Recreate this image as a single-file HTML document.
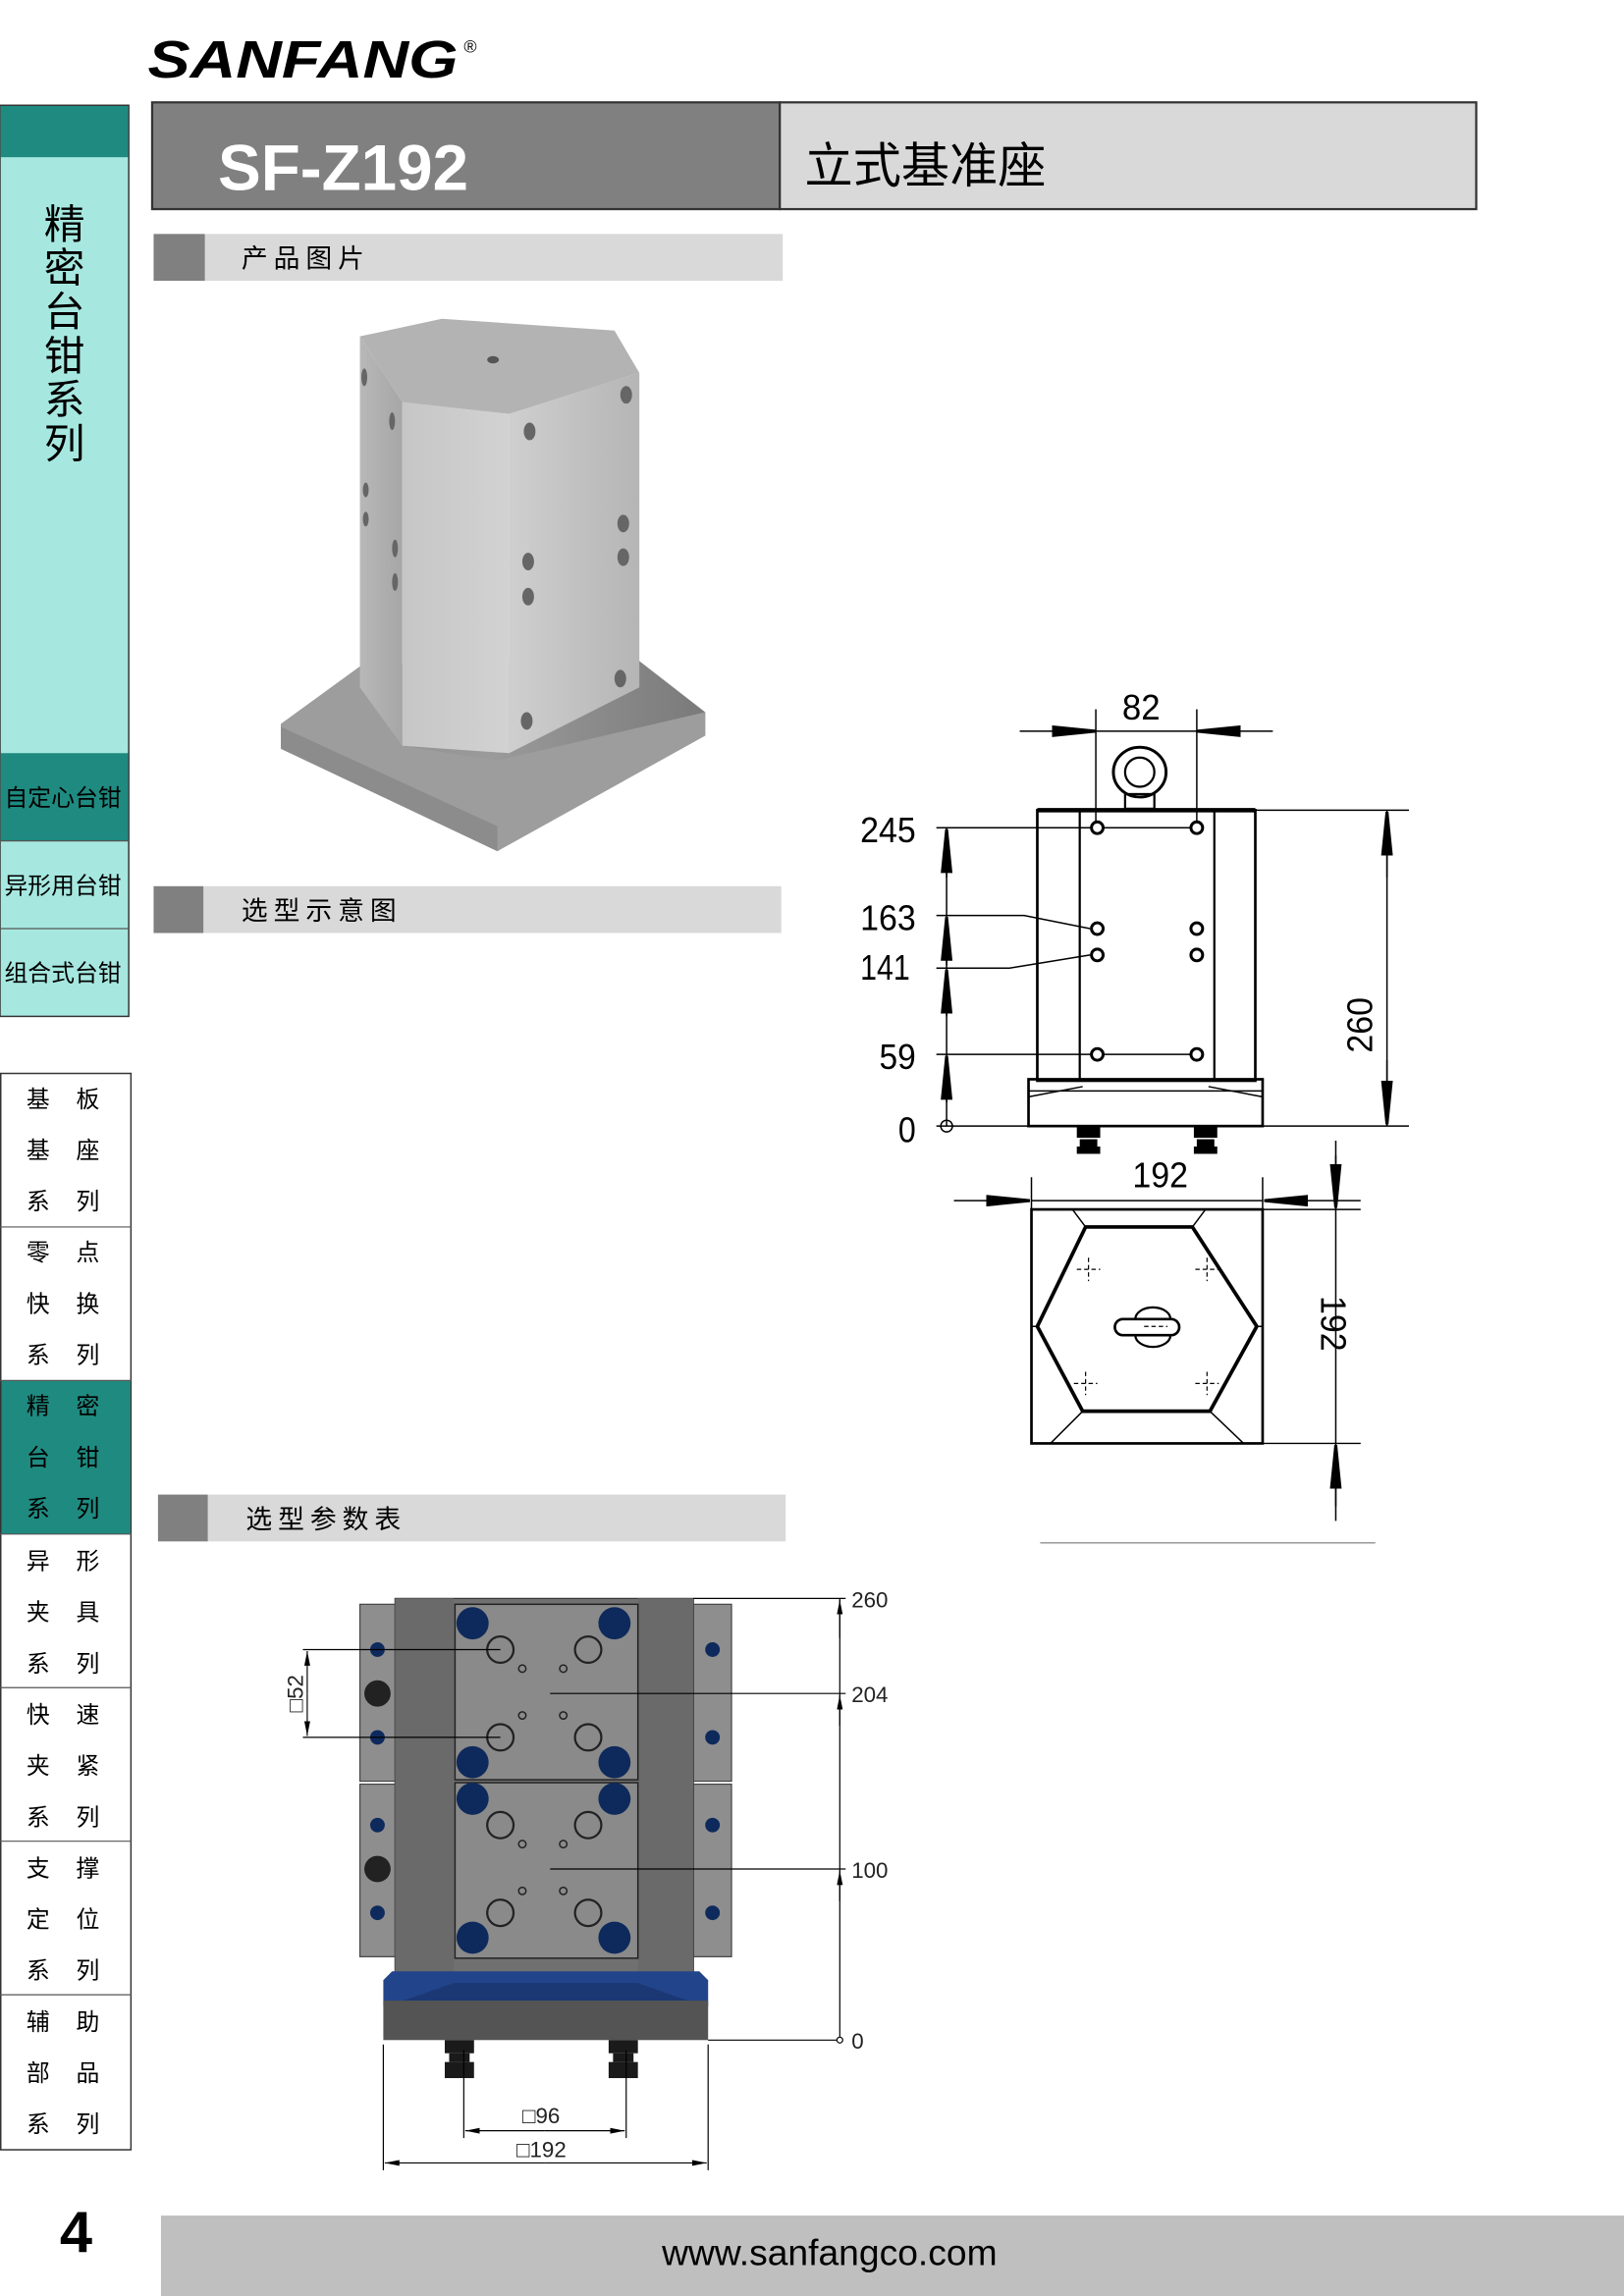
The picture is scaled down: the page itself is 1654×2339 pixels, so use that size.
<!DOCTYPE html>
<html><head><meta charset="utf-8"><style>
html,body{margin:0;padding:0;background:#fff;}
svg{display:block;}
text{font-family:"Liberation Sans","Noto Sans CJK SC",sans-serif;}
</style></head><body>
<svg width="1654" height="2339" viewBox="0 0 1110 1570" preserveAspectRatio="none" xmlns="http://www.w3.org/2000/svg">
<defs>
<linearGradient id="gA" x1="0" x2="1"><stop offset="0" stop-color="#b8b8b8"/><stop offset="1" stop-color="#a6a6a6"/></linearGradient>
<linearGradient id="gB" x1="0" x2="1"><stop offset="0" stop-color="#cfcfcf"/><stop offset="1" stop-color="#b5b5b5"/></linearGradient>
<linearGradient id="gC" x1="0" x2="1"><stop offset="0" stop-color="#c6c6c6"/><stop offset="1" stop-color="#d2d2d2"/></linearGradient>
<linearGradient id="gD" x1="0" x2="1"><stop offset="0" stop-color="#8a8a8a"/><stop offset="0.5" stop-color="#9a9a9a"/><stop offset="1" stop-color="#7a7a7a"/></linearGradient>
<marker id="ar" viewBox="0 0 10 4" refX="10" refY="2" markerWidth="10" markerHeight="4" orient="auto" markerUnits="userSpaceOnUse"><path d="M0,0 L10,2 L0,4z" fill="#000"/></marker>
<marker id="ab" viewBox="0 0 30 8" refX="30" refY="4" markerWidth="30" markerHeight="8" orient="auto" markerUnits="userSpaceOnUse"><path d="M0,0 L30,3 L30,5 L0,8z" fill="#000"/></marker>
</defs>

<!-- logo -->
<text x="101" y="53" font-size="36" font-weight="bold" font-style="italic" fill="#000" textLength="212" lengthAdjust="spacingAndGlyphs">SANFANG</text>
<text x="317" y="36" font-size="12" fill="#000">®</text>

<!-- header -->
<rect x="104" y="70" width="429" height="73" fill="#808080" stroke="#333" stroke-width="1.5"/>
<rect x="533" y="70" width="476" height="73" fill="#d9d9d9" stroke="#333" stroke-width="1.5"/>
<text x="149" y="130" font-size="44" font-weight="bold" fill="#fff">SF-Z192</text>
<text x="550" y="125" font-size="33" fill="#000">立式基准座</text>

<!-- sidebar -->
<rect x="0" y="72" width="88" height="623" fill="#a6e8e0" stroke="#333" stroke-width="1"/>
<rect x="0.5" y="72.5" width="87" height="35" fill="#1f8a80"/>
<g font-size="28" fill="#000" text-anchor="middle">
<text x="44" y="163">精</text><text x="44" y="193">密</text><text x="44" y="223">台</text><text x="44" y="253">钳</text><text x="44" y="283">系</text><text x="44" y="313">列</text>
</g>
<rect x="0.5" y="515" width="87" height="60" fill="#1f8a80"/>
<line x1="0" y1="575" x2="88" y2="575" stroke="#555" stroke-width="0.8"/>
<line x1="0" y1="635" x2="88" y2="635" stroke="#555" stroke-width="0.8"/>
<g font-size="16" fill="#000">
<text x="3" y="551">自定心台钳</text><text x="3" y="611">异形用台钳</text><text x="3" y="671">组合式台钳</text>
</g>

<!-- lower list -->
<rect x="0.5" y="734" width="89" height="736" fill="#fff" stroke="#333" stroke-width="1"/>
<rect x="1" y="944" width="88" height="105" fill="#1f8a80"/>
<g stroke="#555" stroke-width="0.8">
<line x1="0" y1="839" x2="90" y2="839"/><line x1="0" y1="944" x2="90" y2="944"/><line x1="0" y1="1049" x2="90" y2="1049"/><line x1="0" y1="1154" x2="90" y2="1154"/><line x1="0" y1="1259" x2="90" y2="1259"/><line x1="0" y1="1364" x2="90" y2="1364"/>
</g>
<g font-size="16" fill="#000">
<text x="18" y="757">基</text><text x="52" y="757">板</text>
<text x="18" y="792">基</text><text x="52" y="792">座</text>
<text x="18" y="827">系</text><text x="52" y="827">列</text>
<text x="18" y="862">零</text><text x="52" y="862">点</text>
<text x="18" y="897">快</text><text x="52" y="897">换</text>
<text x="18" y="932">系</text><text x="52" y="932">列</text>
<text x="18" y="967">精</text><text x="52" y="967">密</text>
<text x="18" y="1002">台</text><text x="52" y="1002">钳</text>
<text x="18" y="1037">系</text><text x="52" y="1037">列</text>
<text x="18" y="1073">异</text><text x="52" y="1073">形</text>
<text x="18" y="1108">夹</text><text x="52" y="1108">具</text>
<text x="18" y="1143">系</text><text x="52" y="1143">列</text>
<text x="18" y="1178">快</text><text x="52" y="1178">速</text>
<text x="18" y="1213">夹</text><text x="52" y="1213">紧</text>
<text x="18" y="1248">系</text><text x="52" y="1248">列</text>
<text x="18" y="1283">支</text><text x="52" y="1283">撑</text>
<text x="18" y="1318">定</text><text x="52" y="1318">位</text>
<text x="18" y="1353">系</text><text x="52" y="1353">列</text>
<text x="18" y="1388">辅</text><text x="52" y="1388">助</text>
<text x="18" y="1423">部</text><text x="52" y="1423">品</text>
<text x="18" y="1458">系</text><text x="52" y="1458">列</text>
</g>

<!-- section headers -->
<rect x="105" y="160" width="430" height="32" fill="#d9d9d9"/><rect x="105" y="160" width="35" height="32" fill="#808080"/>
<text x="165" y="183" font-size="18" letter-spacing="4">产品图片</text>
<rect x="105" y="606" width="429" height="32" fill="#d9d9d9"/><rect x="105" y="606" width="34" height="32" fill="#808080"/>
<text x="165" y="629" font-size="18" letter-spacing="4">选型示意图</text>
<rect x="108" y="1022" width="429" height="32" fill="#d9d9d9"/><rect x="108" y="1022" width="34" height="32" fill="#808080"/>
<text x="168" y="1045" font-size="18" letter-spacing="4">选型参数表</text>

<!-- product image -->
<polygon points="192,495 247,455 437,452 482,487 482,503 340,582 192,512" fill="url(#gD)"/>
<polygon points="192,495 247,455 275,460 275,510 340,520 482,487 482,503 340,582 192,512" fill="#9d9d9d"/>
<polygon points="192,512 340,582 340,565 192,497" fill="#8c8c8c"/>
<polygon points="246,230 275,275 275,510 246,470" fill="url(#gA)"/>
<polygon points="275,275 348,283 348,515 275,510" fill="url(#gC)"/>
<polygon points="348,283 437,255 437,470 348,515" fill="url(#gB)"/>
<polygon points="246,230 302,218 420,226 437,255 348,283 275,275" fill="#b3b3b3"/>
<ellipse cx="337" cy="246" rx="4" ry="2.5" fill="#555"/>
<g fill="#666">
<ellipse cx="362" cy="295" rx="4" ry="6"/><ellipse cx="428" cy="270" rx="4" ry="6"/>
<ellipse cx="426" cy="358" rx="4" ry="6"/><ellipse cx="426" cy="381" rx="4" ry="6"/>
<ellipse cx="361" cy="384" rx="4" ry="6"/><ellipse cx="361" cy="408" rx="4" ry="6"/>
<ellipse cx="424" cy="464" rx="4" ry="6"/><ellipse cx="360" cy="493" rx="4" ry="6"/>
<ellipse cx="249" cy="258" rx="2" ry="6"/><ellipse cx="268" cy="288" rx="2" ry="6"/>
<ellipse cx="250" cy="335" rx="2" ry="5"/><ellipse cx="250" cy="355" rx="2" ry="5"/>
<ellipse cx="270" cy="375" rx="2" ry="6"/><ellipse cx="270" cy="398" rx="2" ry="6"/>
</g>

<!-- front elevation drawing -->
<g stroke="#000" fill="none" stroke-width="1">
<line x1="749" y1="485" x2="749" y2="568"/><line x1="818" y1="485" x2="818" y2="568"/>
<line x1="697" y1="500" x2="749" y2="500" marker-end="url(#ab)"/><line x1="870" y1="500" x2="818" y2="500" marker-end="url(#ab)"/>
<line x1="749" y1="500" x2="818" y2="500"/>
<ellipse cx="779" cy="528" rx="18" ry="17" stroke-width="2"/><ellipse cx="779" cy="528" rx="10" ry="10" stroke-width="1.5"/>
<rect x="769" y="543" width="20" height="10" stroke-width="1.5"/>
<line x1="709" y1="554" x2="858" y2="554" stroke-width="3"/>
<rect x="709" y="554" width="149" height="185" stroke-width="1.8"/>
<line x1="738" y1="554" x2="738" y2="738" stroke-width="1.5"/><line x1="830" y1="554" x2="830" y2="738" stroke-width="1.5"/>
<rect x="703" y="738" width="160" height="32" stroke-width="1.8"/>
<line x1="703" y1="746" x2="863" y2="746"/>
<path d="M703,750 L740,743 M863,750 L826,743"/>
<line x1="703" y1="770" x2="963" y2="770"/>
<line x1="858" y1="554" x2="963" y2="554"/>
<line x1="948" y1="554" x2="948" y2="770"/>
<line x1="948" y1="600" x2="948" y2="555" marker-end="url(#ab)"/><line x1="948" y1="725" x2="948" y2="769" marker-end="url(#ab)"/>
<line x1="640" y1="566" x2="818" y2="566"/>
<path d="M640,626 L700,626 L745,635"/><path d="M640,662 L690,662 L745,653"/>
<line x1="640" y1="721" x2="818" y2="721"/>
<line x1="640" y1="770" x2="703" y2="770"/>
<line x1="647" y1="566" x2="647" y2="770"/>
<line x1="647" y1="600" x2="647" y2="567" marker-end="url(#ab)"/>
<line x1="647" y1="660" x2="647" y2="627" marker-end="url(#ab)"/>
<line x1="647" y1="695" x2="647" y2="663" marker-end="url(#ab)"/>
<line x1="647" y1="754" x2="647" y2="722" marker-end="url(#ab)"/>
<circle cx="647" cy="770" r="4"/>
</g>
<g fill="#000">
<rect x="736" y="770" width="16" height="8"/><rect x="738" y="779" width="12" height="5"/><rect x="736" y="784" width="16" height="5"/>
<rect x="816" y="770" width="16" height="8"/><rect x="818" y="779" width="12" height="5"/><rect x="816" y="784" width="16" height="5"/>
</g>
<g fill="#fff" stroke="#000" stroke-width="2">
<circle cx="750" cy="566" r="4"/><circle cx="818" cy="566" r="4"/><circle cx="750" cy="635" r="4"/><circle cx="818" cy="635" r="4"/>
<circle cx="750" cy="653" r="4"/><circle cx="818" cy="653" r="4"/><circle cx="750" cy="721" r="4"/><circle cx="818" cy="721" r="4"/>
</g>
<g font-size="24" fill="#000" font-family="Liberation Sans Narrow, Liberation Sans, sans-serif">
<text x="780" y="492" text-anchor="middle" textLength="26" lengthAdjust="spacingAndGlyphs">82</text>
<text x="588" y="576" textLength="38" lengthAdjust="spacingAndGlyphs">245</text>
<text x="588" y="636" textLength="38" lengthAdjust="spacingAndGlyphs">163</text>
<text x="588" y="670" textLength="34" lengthAdjust="spacingAndGlyphs">141</text>
<text x="601" y="731" textLength="25" lengthAdjust="spacingAndGlyphs">59</text>
<text x="614" y="781" textLength="12" lengthAdjust="spacingAndGlyphs">0</text>
<text transform="translate(938,701) rotate(-90)" text-anchor="middle" textLength="38" lengthAdjust="spacingAndGlyphs">260</text>
<text x="793" y="812" text-anchor="middle" textLength="38" lengthAdjust="spacingAndGlyphs">192</text>
<text transform="translate(903,905) rotate(90)" text-anchor="middle" textLength="38" lengthAdjust="spacingAndGlyphs">192</text>
</g>

<!-- plan view -->
<g stroke="#000" fill="none" stroke-width="1">
<rect x="705" y="827" width="158" height="160" stroke-width="1.8"/>
<polygon points="742,839 815,839 859,907 827,965 740,965 709,907" stroke-width="2.5"/>
<path d="M733,827 L742,839 M824,827 L815,839 M705,907 L709,907 M863,907 L859,907 M718,987 L740,965 M850,987 L827,965"/>
<line x1="705" y1="805" x2="705" y2="827"/><line x1="863" y1="805" x2="863" y2="827"/>
<line x1="652" y1="821" x2="704" y2="821" marker-end="url(#ab)"/><line x1="930" y1="821" x2="864" y2="821" marker-end="url(#ab)"/>
<line x1="705" y1="821" x2="863" y2="821"/>
<line x1="863" y1="827" x2="930" y2="827"/><line x1="863" y1="987" x2="930" y2="987"/>
<line x1="913" y1="780" x2="913" y2="1040"/>
<line x1="913" y1="790" x2="913" y2="826" marker-end="url(#ab)"/><line x1="913" y1="1030" x2="913" y2="988" marker-end="url(#ab)"/>
<rect x="762" y="902" width="44" height="11" rx="5.5" stroke-width="1.8"/>
<path d="M776,902 A12,8 0 0 1 800,902 M776,913 A12,8 0 0 0 800,913" stroke-width="1.5"/>
<g stroke-dasharray="3,2" stroke-width="0.8">
<path d="M736,868 H752 M744,860 V876 M817,868 H833 M825,860 V876 M734,946 H750 M742,938 V954 M817,946 H833 M825,938 V954 M782,907 H798"/>
</g>
<line x1="711" y1="1055" x2="940" y2="1055" stroke="#999"/>
</g>

<!-- 3D-ish front view (bottom) -->
<g>
<rect x="246" y="1097" width="26" height="121" fill="#8e8e8e" stroke="#444" stroke-width="0.8"/>
<rect x="246" y="1220" width="26" height="118" fill="#8e8e8e" stroke="#444" stroke-width="0.8"/>
<rect x="474" y="1097" width="26" height="121" fill="#8e8e8e" stroke="#444" stroke-width="0.8"/>
<rect x="474" y="1220" width="26" height="118" fill="#8e8e8e" stroke="#444" stroke-width="0.8"/>
<rect x="270" y="1093" width="204" height="256" fill="#707070" stroke="#333" stroke-width="0.8"/>
<rect x="270" y="1093" width="40" height="256" fill="#6a6a6a"/>
<rect x="436" y="1093" width="38" height="256" fill="#6a6a6a"/>
<rect x="311" y="1097" width="125" height="120" fill="#8a8a8a" stroke="#222" stroke-width="1"/>
<rect x="311" y="1219" width="125" height="120" fill="#8a8a8a" stroke="#222" stroke-width="1"/>
<polygon points="262,1354 268,1348 478,1348 484,1354 484,1372 262,1372" fill="#22448a"/>
<polygon points="310,1356 436,1356 470,1368 276,1368" fill="#1b3875"/>
<rect x="262" y="1368" width="222" height="27" fill="#545454"/>
<g fill="#1a1a1a">
<rect x="304" y="1395" width="20" height="9"/><rect x="307" y="1404" width="14" height="6"/><rect x="304" y="1410" width="20" height="11"/>
<rect x="416" y="1395" width="20" height="9"/><rect x="419" y="1404" width="14" height="6"/><rect x="416" y="1410" width="20" height="11"/>
</g>
<g fill="#0e2a5c">
<circle cx="323" cy="1110" r="11"/><circle cx="420" cy="1110" r="11"/><circle cx="323" cy="1205" r="11"/><circle cx="420" cy="1205" r="11"/>
<circle cx="323" cy="1230" r="11"/><circle cx="420" cy="1230" r="11"/><circle cx="323" cy="1325" r="11"/><circle cx="420" cy="1325" r="11"/>
<circle cx="258" cy="1128" r="5"/><circle cx="258" cy="1188" r="5"/><circle cx="258" cy="1248" r="5"/><circle cx="258" cy="1308" r="5"/>
<circle cx="487" cy="1128" r="5"/><circle cx="487" cy="1188" r="5"/><circle cx="487" cy="1248" r="5"/><circle cx="487" cy="1308" r="5"/>
</g>
<g fill="#222"><circle cx="258" cy="1158" r="9"/><circle cx="258" cy="1278" r="9"/></g>
<g fill="none" stroke="#222" stroke-width="1.5">
<circle cx="342" cy="1128" r="9"/><circle cx="402" cy="1128" r="9"/><circle cx="342" cy="1188" r="9"/><circle cx="402" cy="1188" r="9"/>
<circle cx="342" cy="1248" r="9"/><circle cx="402" cy="1248" r="9"/><circle cx="342" cy="1308" r="9"/><circle cx="402" cy="1308" r="9"/>
</g>
<g fill="none" stroke="#222" stroke-width="1">
<circle cx="357" cy="1141" r="2.5"/><circle cx="385" cy="1141" r="2.5"/><circle cx="357" cy="1173" r="2.5"/><circle cx="385" cy="1173" r="2.5"/>
<circle cx="357" cy="1261" r="2.5"/><circle cx="385" cy="1261" r="2.5"/><circle cx="357" cy="1293" r="2.5"/><circle cx="385" cy="1293" r="2.5"/>
</g>
</g>
<g stroke="#000" stroke-width="0.8" fill="none">
<line x1="474" y1="1093" x2="578" y2="1093"/>
<line x1="376" y1="1158" x2="578" y2="1158"/>
<line x1="376" y1="1278" x2="578" y2="1278"/>
<line x1="484" y1="1395" x2="574" y2="1395"/>
<line x1="574" y1="1093" x2="574" y2="1395"/>
<line x1="574" y1="1120" x2="574" y2="1094" marker-end="url(#ar)"/>
<line x1="574" y1="1180" x2="574" y2="1159" marker-end="url(#ar)"/>
<line x1="574" y1="1300" x2="574" y2="1279" marker-end="url(#ar)"/>
<circle cx="574" cy="1395" r="2" fill="#fff"/>
<line x1="207" y1="1128" x2="342" y2="1128"/><line x1="207" y1="1188" x2="342" y2="1188"/>
<line x1="210" y1="1158" x2="210" y2="1129" marker-end="url(#ar)"/><line x1="210" y1="1158" x2="210" y2="1187" marker-end="url(#ar)"/>
<line x1="317" y1="1402" x2="317" y2="1462"/><line x1="428" y1="1402" x2="428" y2="1462"/>
<line x1="372" y1="1457" x2="318" y2="1457" marker-end="url(#ar)"/><line x1="372" y1="1457" x2="427" y2="1457" marker-end="url(#ar)"/>
<line x1="262" y1="1398" x2="262" y2="1484"/><line x1="484" y1="1398" x2="484" y2="1484"/>
<line x1="373" y1="1479" x2="263" y2="1479" marker-end="url(#ar)"/><line x1="373" y1="1479" x2="483" y2="1479" marker-end="url(#ar)"/>
</g>
<g font-size="15" fill="#222">
<text x="582" y="1099">260</text><text x="582" y="1164">204</text><text x="582" y="1284">100</text><text x="582" y="1401">0</text>
<text x="357" y="1452">□96</text><text x="353" y="1475">□192</text>
<text transform="translate(207,1158) rotate(-90)" text-anchor="middle">□52</text>
</g>

<!-- footer -->
<text x="52" y="1540" font-size="40" font-weight="bold" text-anchor="middle">4</text>
<rect x="110" y="1515" width="1000" height="55" fill="#bfbfbf"/>
<text x="567" y="1549" font-size="25" text-anchor="middle" fill="#000">www.sanfangco.com</text>
</svg>
</body></html>
